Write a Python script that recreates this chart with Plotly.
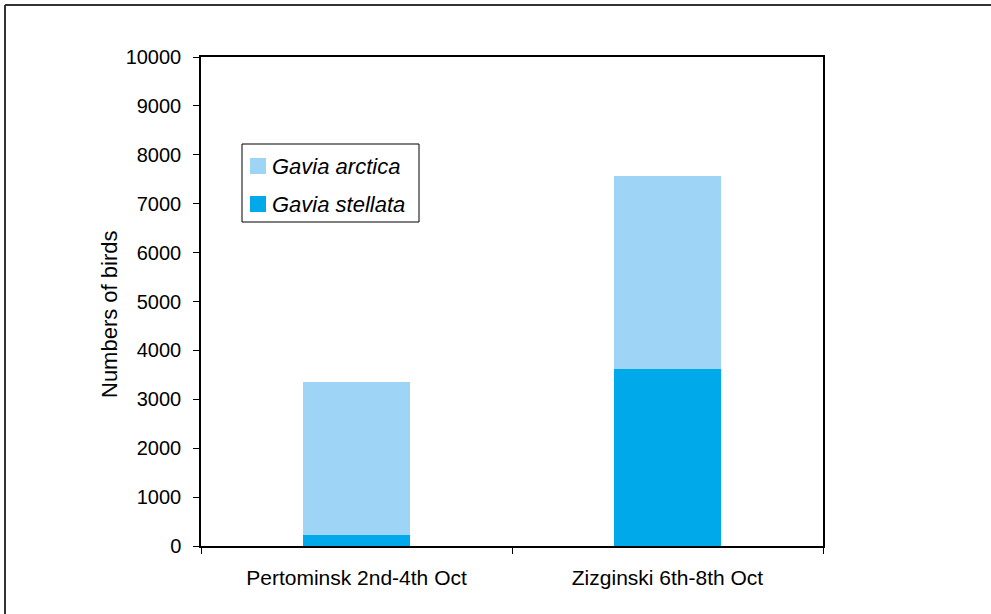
import plotly.graph_objects as go

categories = ["Pertominsk 2nd-4th Oct", "Zizginski 6th-8th Oct"]
gavia_stellata = [230, 3620]
gavia_arctica = [3125, 3950]   # stacked on top of stellata
series_names = ["Gavia arctica", "Gavia stellata"]
y_ticks = list(range(0, 10001, 1000))

COL_ARCTICA = "#9ED4F5"
COL_STELLATA = "#00A9E9"

W, H = 991, 614
L, R, T, B = 201, 168, 57, 68
PW, PH = W - L - R, H - T - B

def xp(px):
    return (px - L) / PW

def yp(py):
    return (H - B - py) / PH

FONT = "Liberation Sans, Arial, sans-serif"

fig = go.Figure()
fig.add_trace(go.Bar(x=categories, y=gavia_stellata, name=series_names[1],
                     marker=dict(color=COL_STELLATA, line=dict(width=0)), width=0.344,
                     showlegend=False))
fig.add_trace(go.Bar(x=categories, y=gavia_arctica, name=series_names[0],
                     marker=dict(color=COL_ARCTICA, line=dict(width=0)), width=0.344,
                     showlegend=False))

shapes = [
    # outer frame (top and left)
    dict(type="line", xref="paper", yref="paper", x0=xp(5), x1=xp(991), y0=yp(5), y1=yp(5),
         line=dict(color="#333333", width=2)),
    dict(type="line", xref="paper", yref="paper", x0=xp(5), x1=xp(5), y0=yp(5), y1=yp(614),
         line=dict(color="#333333", width=2)),
    # legend box
    dict(type="rect", xref="paper", yref="paper", x0=xp(242), x1=xp(419), y0=yp(144), y1=yp(222),
         line=dict(color="black", width=1), fillcolor="white"),
    dict(type="rect", xref="paper", yref="paper", x0=xp(250), x1=xp(266), y0=yp(158), y1=yp(174),
         line=dict(width=0), fillcolor=COL_ARCTICA),
    dict(type="rect", xref="paper", yref="paper", x0=xp(250), x1=xp(266), y0=yp(196), y1=yp(212),
         line=dict(width=0), fillcolor=COL_STELLATA),
]

annotations = [
    dict(text="<i>" + series_names[0] + "</i>", xref="paper", yref="paper", x=xp(270), y=yp(166),
         xanchor="left", yanchor="middle", showarrow=False, font=dict(size=22, color="black", family=FONT)),
    dict(text="<i>" + series_names[1] + "</i>", xref="paper", yref="paper", x=xp(270), y=yp(204),
         xanchor="left", yanchor="middle", showarrow=False, font=dict(size=22, color="black", family=FONT)),
    dict(text="Numbers of birds", xref="paper", yref="paper", x=xp(109), y=yp(314),
         xanchor="center", yanchor="middle", textangle=-90, showarrow=False,
         font=dict(size=22, color="black", family=FONT)),
]

fig.update_layout(
    width=W, height=H,
    margin=dict(l=L, r=R, t=T, b=B, pad=0),
    barmode="stack",
    plot_bgcolor="white", paper_bgcolor="white",
    font=dict(family=FONT, size=20, color="black"),
    shapes=shapes, annotations=annotations,
    showlegend=False,
)
fig.update_xaxes(
    type="category", tickson="boundaries", ticks="outside", ticklen=6, tickcolor="black",
    showline=True, linecolor="black", linewidth=1.5, mirror=True, showgrid=False,
    tickfont=dict(size=21), ticklabelstandoff=12,
)
fig.update_yaxes(
    range=[0, 10000], tickvals=y_ticks, tickformat="d", ticks="outside", ticklen=6, tickcolor="black",
    showline=True, linecolor="black", linewidth=1.5, mirror=True, showgrid=False,
    zeroline=False, tickfont=dict(size=20), ticklabelstandoff=8,
)

fig.write_html("out.html", config={"displayModeBar": False},
               post_script="document.body.style.margin='0px';")
